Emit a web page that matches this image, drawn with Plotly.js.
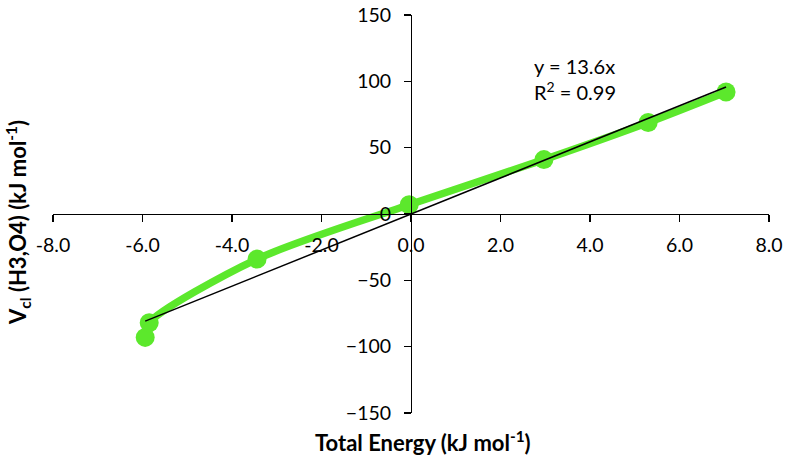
<!DOCTYPE html>
<html>
<head>
<meta charset="utf-8">
<script src="https://cdn.plot.ly/plotly-3.0.1.min.js"></script>
<style>
  html, body { margin: 0; padding: 0; background: #fff; }
  #chart { width: 786px; height: 465px; }
</style>
</head>
<body>
<div id="chart"></div>
<script>
// values
const totalEnergy = [-5.94, -5.85, -3.44, -0.04, 2.97, 5.30, 7.04];
const vcl = [-93, -82, -34, 7, 41, 69, 92];
const trendSlope = 13.6;
const trendLabel = 'y = 13.6x<br>R<sup>2</sup> = 0.99';
const xTicks = [-8, -6, -4, -2, 0, 2, 4, 6, 8];
const yTicks = [-150, -100, -50, 0, 50, 100, 150];

const green = '#5CE82C';
const font = 'Lato, "Open Sans", sans-serif';

const xMin = Math.min(...totalEnergy);
const xMax = Math.max(...totalEnergy);

const dataTrace = {
  x: totalEnergy,
  y: vcl,
  type: 'scatter',
  mode: 'lines+markers',
  line: { color: green, width: 7.5, shape: 'spline', smoothing: 0.8 },
  marker: { color: green, size: 19 },
  hoverinfo: 'x+y',
  showlegend: false
};

// linear trendline through the origin, over the data range
const trendTrace = {
  x: [xMin, xMax],
  y: [trendSlope * xMin, trendSlope * xMax],
  type: 'scatter',
  mode: 'lines',
  line: { color: '#000', width: 1.5 },
  hoverinfo: 'skip',
  showlegend: false
};

const axisCommon = {
  anchor: 'free',
  position: 0.5,
  showline: true,
  linecolor: '#000',
  linewidth: 1.3,
  ticks: 'outside',
  ticklen: 7,
  tickcolor: '#000',
  tickwidth: 1.3,
  showgrid: false,
  zeroline: false,
  tickfont: { family: font, size: 19.5 }
};

const plotL = 53, plotR = 17, plotT = 15, plotB = 52;
const plotW = 786 - plotL - plotR;
const plotH = 465 - plotT - plotB;
const px = x => (x - plotL) / plotW;
const py = y => (465 - plotB - y) / plotH;

const layout = {
  width: 786,
  height: 465,
  margin: { l: plotL, r: plotR, t: plotT, b: plotB },
  paper_bgcolor: '#fff',
  plot_bgcolor: '#fff',
  font: { family: font, size: 19, color: '#000' },
  xaxis: Object.assign({}, axisCommon, {
    range: [-8, 8],
    tickvals: xTicks,
    ticktext: xTicks.map(v => v.toFixed(1)),
    ticklabelstandoff: 6
  }),
  yaxis: Object.assign({}, axisCommon, {
    range: [-150, 150],
    tickvals: yTicks,
    ticklabelstandoff: 9
  }),
  annotations: [
    {
      text: trendLabel,
      x: 2.7, y: 102,
      xref: 'x', yref: 'y',
      xanchor: 'left', yanchor: 'middle',
      align: 'left',
      showarrow: false,
      font: { family: font, size: 20 }
    },
    {
      text: '<b>Total Energy (kJ mol<sup>-1</sup>)</b>',
      x: px(423), y: py(441),
      xref: 'paper', yref: 'paper',
      xanchor: 'center', yanchor: 'middle',
      showarrow: false,
      font: { family: font, size: 22 }
    },
    {
      text: '<b>V<sub>cl</sub> (H3,O4) (kJ mol<sup>-1</sup>)</b>',
      textangle: -90,
      x: px(18), y: py(223),
      xref: 'paper', yref: 'paper',
      xanchor: 'center', yanchor: 'middle',
      showarrow: false,
      font: { family: font, size: 22 }
    }
  ]
};

Plotly.newPlot('chart', [dataTrace, trendTrace], layout, { displayModeBar: false, staticPlot: true });
</script>
</body>
</html>
